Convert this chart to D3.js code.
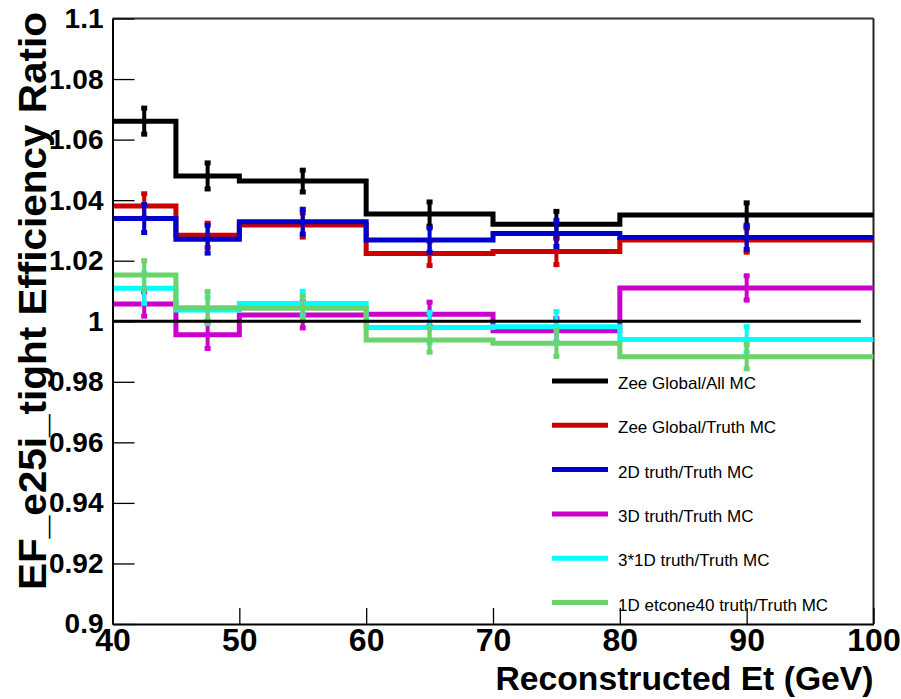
<!DOCTYPE html>
<html>
<head>
<meta charset="utf-8">
<script src="https://cdn.jsdelivr.net/npm/d3@7"></script>
<style>
  html, body { margin: 0; padding: 0; background: #fff; }
  svg { display: block; }
</style>
</head>
<body>
<svg id="chart" width="901" height="699"></svg>
<script>
// Bin edges in reconstructed Et (GeV)
const binEdges = [40, 45, 50, 60, 70, 80, 100];

// Efficiency ratio per bin and its uncertainty, one pair per curve
const zeeAllValues   = [1.0661, 1.0480, 1.0463, 1.0354, 1.0320, 1.0351];
const zeeAllErrors   = [0.0043, 0.0043, 0.0036, 0.0040, 0.0043, 0.0040];
const zeeTruthValues = [1.0381, 1.0284, 1.0318, 1.0224, 1.0230, 1.0268];
const zeeTruthErrors = [0.0040, 0.0040, 0.0040, 0.0040, 0.0043, 0.0040];
const truth2DValues  = [1.0339, 1.0271, 1.0329, 1.0268, 1.0290, 1.0277];
const truth2DErrors  = [0.0046, 0.0046, 0.0041, 0.0040, 0.0043, 0.0040];
const truth3DValues  = [1.0057, 0.9955, 1.0021, 1.0023, 0.9969, 1.0110];
const truth3DErrors  = [0.0040, 0.0045, 0.0043, 0.0040, 0.0040, 0.0040];
const truth31DValues = [1.0109, 1.0037, 1.0059, 0.9979, 0.9982, 0.9940];
const truth31DErrors = [0.0050, 0.0042, 0.0040, 0.0050, 0.0050, 0.0042];
const etconeValues   = [1.0153, 1.0045, 1.0043, 0.9938, 0.9927, 0.9883];
const etconeErrors   = [0.0047, 0.0053, 0.0040, 0.0040, 0.0043, 0.0040];

const seriesNames = [
  "Zee Global/All MC",
  "Zee Global/Truth MC",
  "2D truth/Truth MC",
  "3D truth/Truth MC",
  "3*1D truth/Truth MC",
  "1D etcone40 truth/Truth MC"
];
const seriesColors = ["#000000", "#cc0000", "#0000cc", "#cc00cc", "#00ffff", "#6bd36b"];

// Unity reference line
const unityLine = { x0: 40, x1: 99, value: 1.0 };

// Axis ticks
const xMajorTicks = [40, 50, 60, 70, 80, 90, 100];
const xTickLabels = ["40", "50", "60", "70", "80", "90", "100"];
const xMinorTicks = d3.range(40, 100.01, 2);
const yMajorTicks = [0.9, 0.92, 0.94, 0.96, 0.98, 1.0, 1.02, 1.04, 1.06, 1.08, 1.1];
const yTickLabels = ["0.9", "0.92", "0.94", "0.96", "0.98", "1", "1.02", "1.04", "1.06", "1.08", "1.1"];
const yMinorTicks = d3.range(0, 41).map(i => 0.9 + i * 0.005);

const xTitle = "Reconstructed Et (GeV)";
const yTitle = "EF_e25i_tight Efficiency Ratio";

const series = seriesNames.map((name, i) => ({
  name,
  color: seriesColors[i],
  values: [zeeAllValues, zeeTruthValues, truth2DValues, truth3DValues, truth31DValues, etconeValues][i],
  errors: [zeeAllErrors, zeeTruthErrors, truth2DErrors, truth3DErrors, truth31DErrors, etconeErrors][i]
}));

const svg = d3.select("#chart");
const frame = { left: 112.5, right: 873.5, top: 18.5, bottom: 624 };

const x = d3.scaleLinear().domain([40, 100]).range([frame.left, frame.right]);
const y = d3.scaleLinear().domain([0.9, 1.1]).range([frame.bottom, frame.top]);

const bold = "'Liberation Sans', Arial, Helvetica, sans-serif";

// Frame: top and right edges
svg.append("line")
  .attr("x1", frame.left).attr("x2", frame.right)
  .attr("y1", frame.top).attr("y2", frame.top)
  .attr("stroke", "#333").attr("stroke-width", 2);
svg.append("line")
  .attr("x1", frame.right).attr("x2", frame.right)
  .attr("y1", frame.top).attr("y2", frame.bottom)
  .attr("stroke", "#222").attr("stroke-width", 2);

// Histogram steps
const step = d3.line()
  .x(d => x(d[0]))
  .y(d => y(d[1]))
  .curve(d3.curveStepAfter);

const plot = svg.append("g");

series.forEach(s => {
  const pts = s.values.map((v, i) => [binEdges[i], v]);
  pts.push([binEdges[binEdges.length - 1], s.values[s.values.length - 1]]);
  const g = plot.append("g");
  g.append("path")
    .attr("d", step(pts))
    .attr("fill", "none")
    .attr("stroke", s.color)
    .attr("stroke-width", 5)
    .attr("stroke-linejoin", "miter")
    .attr("stroke-linecap", "butt");

  s.values.forEach((v, i) => {
    const cx = x((binEdges[i] + binEdges[i + 1]) / 2);
    const yHi = y(v + s.errors[i]);
    const yLo = y(v - s.errors[i]);
    g.append("line")
      .attr("x1", cx).attr("x2", cx)
      .attr("y1", yHi).attr("y2", yLo)
      .attr("stroke", s.color).attr("stroke-width", 4);
    [yHi, yLo].forEach(yy => {
      g.append("rect")
        .attr("x", cx - 3).attr("y", yy - 2.5)
        .attr("width", 6).attr("height", 5)
        .attr("fill", s.color);
    });
  });
});

// Unity line
svg.append("line")
  .attr("x1", x(unityLine.x0)).attr("x2", x(unityLine.x1))
  .attr("y1", y(unityLine.value)).attr("y2", y(unityLine.value))
  .attr("stroke", "#000").attr("stroke-width", 3);

// Y axis
const yAxisG = svg.append("g").attr("transform", `translate(${frame.left},0)`);
yAxisG.call(d3.axisLeft(y).tickValues(yMinorTicks).tickSize(-11).tickSizeOuter(0).tickFormat(""));
yAxisG.call(d3.axisLeft(y).tickValues(yMajorTicks).tickSize(-22).tickSizeOuter(0)
  .tickPadding(9).tickFormat((d, i) => yTickLabels[i]));
yAxisG.selectAll("path.domain").attr("stroke", "#000").attr("stroke-width", 2);
yAxisG.selectAll(".tick line").attr("stroke", "#000").attr("stroke-width", 1.3);
yAxisG.selectAll(".tick text")
  .attr("font-family", bold).attr("font-weight", "bold")
  .attr("font-size", 28).attr("fill", "#000");

// X axis
const xAxisG = svg.append("g").attr("transform", `translate(0,${frame.bottom})`);
xAxisG.call(d3.axisBottom(x).tickValues(xMinorTicks).tickSize(-8).tickSizeOuter(0).tickFormat(""));
xAxisG.call(d3.axisBottom(x).tickValues(xMajorTicks).tickSize(-16).tickSizeOuter(0)
  .tickPadding(4).tickFormat((d, i) => xTickLabels[i]));
xAxisG.selectAll("path.domain").attr("stroke", "#000").attr("stroke-width", 2);
xAxisG.selectAll(".tick line").attr("stroke", "#000").attr("stroke-width", 1.3);
xAxisG.selectAll(".tick text")
  .attr("font-family", bold).attr("font-weight", "bold")
  .attr("font-size", 32).attr("fill", "#000");

// Axis titles
svg.append("text")
  .attr("x", frame.right).attr("y", 690)
  .attr("text-anchor", "end")
  .attr("font-family", bold).attr("font-weight", "bold")
  .attr("font-size", 34)
  .attr("textLength", 378).attr("lengthAdjust", "spacingAndGlyphs")
  .text(xTitle);

svg.append("text")
  .attr("transform", "translate(46,590) rotate(-90)")
  .attr("text-anchor", "start")
  .attr("font-family", bold).attr("font-weight", "bold")
  .attr("font-size", 38)
  .attr("textLength", 578).attr("lengthAdjust", "spacingAndGlyphs")
  .text(yTitle);

// Legend
const legendTop = 381, legendGap = 44.3;
const legend = svg.append("g");
series.forEach((s, i) => {
  const ly = legendTop + i * legendGap;
  legend.append("line")
    .attr("x1", 552).attr("x2", 608)
    .attr("y1", ly).attr("y2", ly)
    .attr("stroke", s.color).attr("stroke-width", 5);
  legend.append("text")
    .attr("x", 618).attr("y", ly + 8)
    .attr("font-family", bold)
    .attr("font-size", 17).attr("fill", "#000")
    .text(s.name);
});
</script>
</body>
</html>
